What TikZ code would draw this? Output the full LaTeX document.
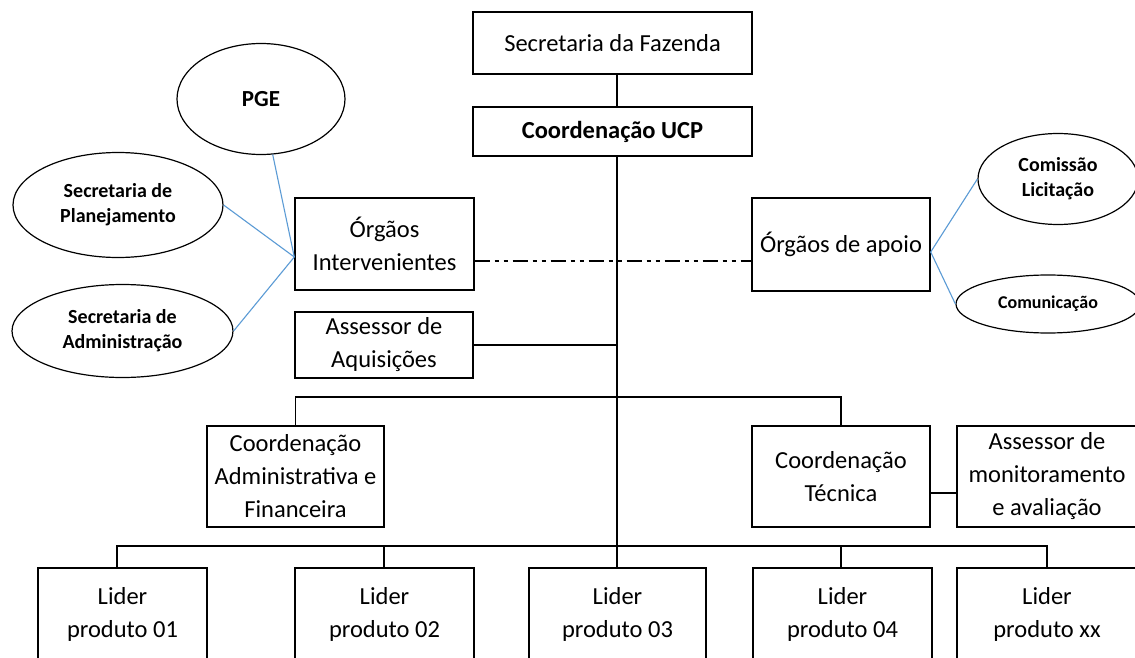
\documentclass[tikz,border=0pt]{standalone}
\usepackage{fontspec}
\setmainfont{Carlito}
\usetikzlibrary{shapes.geometric,calc}
\definecolor{linkblue}{RGB}{91,155,213}
\tikzset{
  box/.style={draw, line width=1.4pt, rectangle, inner sep=0pt, align=center,
    font=\fontsize{24.5}{33}\selectfont},
  oval/.style={draw, line width=1.2pt, ellipse, inner sep=0pt, align=center,
    font=\fontsize{20}{25}\selectfont\bfseries},
  conn/.style={line width=1.3pt},
  bluelink/.style={draw=linkblue, line width=1.1pt},
  dashdotdot/.style={line width=1.3pt, dash pattern=on 15pt off 5pt on 4pt off 5pt on 4pt off 5pt}
}
\begin{document}
\begin{tikzpicture}[x=1pt,y=-1pt]
\useasboundingbox (0,0) rectangle (1135,658);
\clip (0,0) rectangle (1135,658);
\fill[white] (0,0) rectangle (1135,658);

% rectangles
\node[box, minimum width=279pt, minimum height=62pt] (faz) at (612.5,43) {Secretaria da Fazenda};
\node[box, minimum width=279pt, minimum height=49pt] (ucp) at (612.5,131.5) {\bfseries Coordenação UCP};
\node[box, minimum width=179pt, minimum height=92pt] (orgint) at (384.5,244) {Órgãos\\Intervenientes};
\node[box, minimum width=178pt, minimum height=93pt] (apoio) at (841,244.5) {Órgãos de apoio};
\node[box, minimum width=178pt, minimum height=66pt] (aquis) at (384,345) {Assessor de\\Aquisições};
\node[box, minimum width=177pt, minimum height=101pt] (adminfin) at (295.5,476.5) {Coordenação\\Administrativa e\\Financeira};
\node[box, minimum width=178pt, minimum height=101pt] (tecnica) at (841,476.5) {Coordenação\\Técnica};
\node[box, minimum width=180pt, minimum height=101pt] (monit) at (1047,476.5) {Assessor de\\monitoramento\\e avaliação};

\node[box, minimum width=169pt, minimum height=92pt] (l1) at (122.5,614) {Lider\\produto 01};
\node[box, minimum width=179pt, minimum height=92pt] (l2) at (384.5,614) {Lider\\produto 02};
\node[box, minimum width=177pt, minimum height=92pt] (l3) at (617.5,614) {Lider\\produto 03};
\node[box, minimum width=179pt, minimum height=92pt] (l4) at (842.5,614) {Lider\\produto 04};
\node[box, minimum width=180pt, minimum height=92pt] (l5) at (1047,614) {Lider\\produto xx};

% ellipses
\node[oval, minimum width=168pt, minimum height=111pt, font=\fontsize{23}{25}\selectfont\bfseries] (pge) at (261,99) {PGE};
\node[oval, minimum width=210pt, minimum height=105pt] (plan) at (118,205) {Secretaria de\\Planejamento};
\node[oval, minimum width=221pt, minimum height=93pt] (adm) at (122.5,331) {Secretaria de\\Administração};
\node[oval, minimum width=160pt, minimum height=91pt] (com) at (1058,179) {Comissão\\Licitação};
\node[oval, minimum width=184pt, minimum height=58pt, font=\fontsize{18}{22}\selectfont\bfseries] (comu) at (1048,304) {Comunicação};

% helper coordinates
\coordinate (T) at (617,0);
\coordinate (dd) at (617,261);
\coordinate (B1) at (617,397);
\coordinate (B2) at (617,546);

% trunk
\draw[conn] (T |- faz.south) -- (T |- ucp.north);
\draw[conn] (T |- ucp.south) -- (T |- l3.north);

% dash-dot link
\draw[dashdotdot] (orgint.east |- dd) -- (apoio.west |- dd);

% assessor de aquisições
\draw[conn] (aquis.east) -- (aquis.east -| T);

% coordenações
\draw[conn] (adminfin.north) |- (B1) -| (tecnica.north);
\draw[conn] ($(tecnica.east)+(0,16.5)$) -- ($(monit.west)+(0,16.5)$);

% líderes
\draw[conn] ($(l1.north)+(-5.5,0)$) |- (B2) -| (l5.north);
\draw[conn] ($(l2.north)+(-0.5,0)$) -- ($(l2.north |- B2)+(-0.5,0)$);
\draw[conn] ($(l4.north)+(-1.5,0)$) -- ($(l4.north |- B2)+(-1.5,0)$);

% blue links
\coordinate (hubL) at ($(orgint.west)+(0,13)$);
\coordinate (hubR) at ($(apoio.east)+(0,7.5)$);
\draw[bluelink] (pge) -- (hubL);
\draw[bluelink] (plan.east) -- (hubL);
\draw[bluelink] (adm.east) -- (hubL);
\draw[bluelink] (com.west) -- (hubR);
\draw[bluelink] (comu.west) -- (hubR);
\end{tikzpicture}
\end{document}
